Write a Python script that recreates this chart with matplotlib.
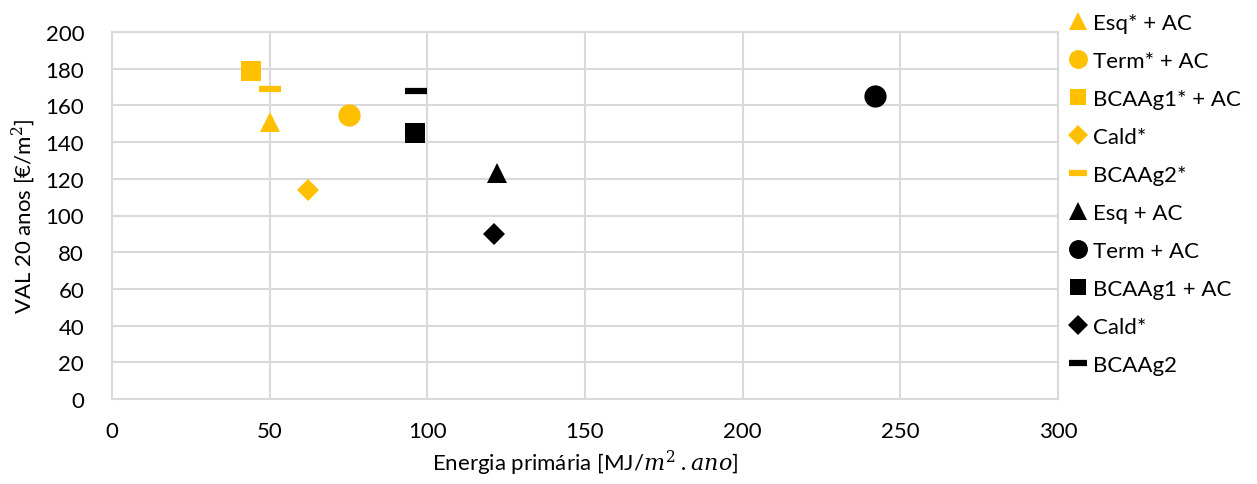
import matplotlib
matplotlib.use("Agg")
import matplotlib.pyplot as plt

plt.rcParams['font.family'] = ['Lato', 'DejaVu Sans']
plt.rcParams['mathtext.fontset'] = 'custom'
plt.rcParams['mathtext.it'] = 'DejaVu Serif:italic'
plt.rcParams['mathtext.rm'] = 'DejaVu Serif'

labels = ["Esq* + AC", "Term* + AC", "BCAAg1* + AC", "Cald*", "BCAAg2*",
          "Esq + AC", "Term + AC", "BCAAg1 + AC", "Cald*", "BCAAg2"]
energy = [50, 75, 44, 62, 50, 122, 242, 96, 121, 96.5]
val20 = [151, 155, 179, 114, 169, 123, 165, 145, 90, 168]
colors = ["#FFC000"] * 5 + ["#000000"] * 5
markers = ["^", "o", "s", "D", "_", "^", "o", "s", "D", "_"]
sizes = [15, 16, 14, 11.5, 16, 15, 16, 14, 11.5, 16]

x_ticks = [0, 50, 100, 150, 200, 250, 300]
y_ticks = list(range(0, 201, 20))

fig = plt.figure(figsize=(12.57, 4.85), dpi=100)
ax = fig.add_axes([112/1257, 1 - 400/485, (1058-112)/1257, (400-33)/485])

handles = []
for x, y, c, m, s, lab in zip(energy, val20, colors, markers, sizes, labels):
    kw = dict(markeredgewidth=4.5) if m == "_" else dict(markeredgewidth=0)
    h, = ax.plot([x], [y], linestyle="none", marker=m, markersize=s,
                 color=c, markerfacecolor=c, markeredgecolor=c, label=lab, **kw)
    handles.append(h)

ax.set_xlim(0, 300)
ax.set_ylim(0, 200)
ax.set_xticks(x_ticks)
ax.set_yticks(y_ticks)
ax.grid(True, color="#D9D9D9", linewidth=1.5)
ax.set_axisbelow(True)
for sp in ax.spines.values():
    sp.set_color("#D9D9D9")
    sp.set_linewidth(1.5)
ax.tick_params(axis="x", length=0, labelsize=16, colors="#000000", pad=16)
ax.tick_params(axis="y", length=0, labelsize=16, colors="#000000", pad=20)

ax.set_xlabel("Energia primária [MJ/$m^2\\,.ano$]", fontsize=16, labelpad=5)
ax.set_ylabel("VAL 20 anos [€/m$^2$]", fontsize=16, labelpad=6)

leg = ax.legend(handles=handles, loc="upper left", bbox_to_anchor=(0.995, 1.095),
                frameon=False, fontsize=16, markerscale=0.85,
                handlelength=0.8, handletextpad=0.3, labelspacing=0.81,
                borderaxespad=0.3)

fig.savefig("out.png", dpi=100)
